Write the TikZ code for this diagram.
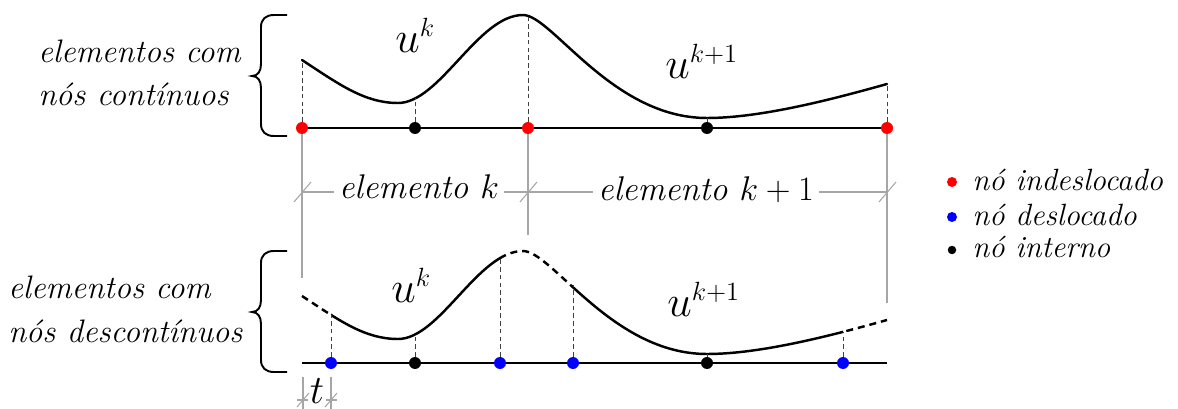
\RequirePackage{fix-cm}
\documentclass[tikz,border=0pt]{standalone}
\usepackage{fontspec}
\begin{document}
\def\ucurvepath{(302,60) .. controls (340,85) and (365,103) .. (398,103) .. controls (440,103) and (478,15) .. (523,15) .. controls (552,15) and (612,118) .. (707,118) .. controls (760,118) and (830,100) .. (887,84)}
\newcommand\supsz[1]{\mbox{\fontsize{15}{16}\selectfont$#1$}}
\begin{tikzpicture}[x=0.02cm,y=-0.02cm,
  curve/.style={line width=1.4pt, line cap=round},
  dcurve/.style={line width=1.4pt, dash pattern=on 4pt off 2.8pt},
  axisline/.style={line width=0.8pt},
  guide/.style={draw=black!75, line width=0.5pt, dash pattern=on 2.6pt off 1.8pt},
  dimline/.style={draw=black!35, line width=0.6pt},
  bracepath/.style={line width=1.1pt},
  dotbase/.style={circle, inner sep=0pt, minimum size=0.24cm},
  dotred/.style={dotbase, fill=red},
  dotblue/.style={dotbase, fill=blue},
  dotblack/.style={dotbase, fill=black},
  ldot/.style={circle, inner sep=0pt, minimum size=0.2cm},
  sidelbl/.style={font=\fontsize{18.5}{22}\selectfont\itshape, inner sep=0pt, anchor=base west},
  lbl/.style={font=\fontsize{17.5}{21}\selectfont\itshape, inner sep=0pt, anchor=base west},
  dimlbl/.style={font=\fontsize{19.5}{23}\selectfont\itshape, inner sep=0pt, inner xsep=3pt, anchor=base, fill=white},
  ulbl/.style={font=\fontsize{25}{30}\selectfont, inner sep=0pt, anchor=base west},
]
\useasboundingbox (0,0) rectangle (1178,409);

% ---------- TOP ----------
\draw[bracepath] (287,15) -- (274,15) .. controls (266,15) and (261,19) .. (261,27) -- (261,64) .. controls (261,71) and (258,76) .. (252,76) .. controls (258,76) and (261,81) .. (261,88) -- (261,124) .. controls (261,132) and (266,136) .. (274,136) -- (287,136);
\node[sidelbl] (tt1) at (38,62) {elementos com};
\node[sidelbl] (tt2) at (38,105) {nós contínuos};

\coordinate (tA) at (302,128);
\coordinate (tB) at (887,128);
\draw[axisline] (tA) -- (tB);

\coordinate (tc1) at (302,60);
\coordinate (tc2) at (415,98);
\coordinate (tc3) at (528,15);
\coordinate (tc4) at (707,118);
\coordinate (tc5) at (887,84);
\draw[curve] \ucurvepath;

\coordinate (g1) at (302,278);
\coordinate (g2) at (528,235);
\coordinate (g3) at (887,303);

\node[dotred] (t1) at (302,128) {};
\node[dotblack] (t2) at (415,128) {};
\node[dotred] (t3) at (528,128) {};
\node[dotblack] (t4) at (707,128) {};
\node[dotred] (t5) at (887,128) {};

\draw[guide] (t1) -- (tc1);
\draw[guide] (t2) -- (tc2);
\draw[guide] (t3) -- (tc3);
\draw[guide] (t4) -- (tc4);
\draw[guide] (t5) -- (tc5);

\draw[dimline] (t1) -- (g1);
\draw[dimline] (t3) -- (g2);
\draw[dimline] (t5) -- (g3);

\node[ulbl] (uk1) at (395,52) {$u^{\supsz{k}}$};
\node[ulbl] (uk2) at (665,78) {$u^{\supsz{k{+}1}}$};

% ---------- DIMENSION ----------
\coordinate (d1) at (302,192);
\coordinate (d2) at (528,192);
\coordinate (d3) at (887,192);
\draw[dimline] (d1) -- (d3);
\draw[dimline] (d1) +(-8,10) -- +(9,-10);
\draw[dimline] (d2) +(-8,10) -- +(9,-10);
\draw[dimline] (d3) +(-8,10) -- +(9,-10);
\node[dimlbl] (e1) at (419,198) {elemento $k$};
\node[dimlbl] (e2) at (706,200) {elemento $k+1$};

% ---------- LEGEND ----------
\node[ldot, fill=red] (l1) at (952,182) {};
\node[ldot, fill=blue] (l2) at (952,217) {};
\node[ldot, fill=black, minimum size=0.17cm] (l3) at (952,250) {};
\node[lbl] (l1t) at (972,190) {nó indeslocado};
\node[lbl] (l2t) at (972,225) {nó deslocado};
\node[lbl] (l3t) at (972,257) {nó interno};

% ---------- BOTTOM ----------
\begin{scope}[shift={(0,236)}]
\draw[bracepath] (287,15) -- (274,15) .. controls (266,15) and (261,19) .. (261,27) -- (261,64) .. controls (261,71) and (258,76) .. (252,76) .. controls (258,76) and (261,81) .. (261,88) -- (261,124) .. controls (261,132) and (266,136) .. (274,136) -- (287,136);
\begin{scope}\clip (331,-10) rectangle (500,140); \draw[curve] \ucurvepath; \end{scope}
\begin{scope}\clip (573,-10) rectangle (843,140); \draw[curve] \ucurvepath; \end{scope}
\begin{scope}\clip (290,-10) rectangle (331,140); \draw[dcurve] \ucurvepath; \end{scope}
\begin{scope}\clip (500,-10) rectangle (573,140); \draw[dcurve] \ucurvepath; \end{scope}
\begin{scope}\clip (843,-10) rectangle (900,140); \draw[dcurve] \ucurvepath; \end{scope}
\end{scope}

\node[sidelbl] (bt1) at (8,298) {elementos com};
\node[sidelbl] (bt2) at (8,342) {nós descontínuos};

\coordinate (bA) at (302,363);
\coordinate (bB) at (887,363);
\draw[axisline] (bA) -- (bB);

\coordinate (bc1) at (331,315);
\coordinate (bc2) at (415,334);
\coordinate (bc3) at (500,259);
\coordinate (bc4) at (573,285);
\coordinate (bc5) at (707,354);
\coordinate (bc6) at (843,332);

\node[dotblue] (b1) at (331,363) {};
\node[dotblack] (b2) at (415,363) {};
\node[dotblue] (b3) at (500,363) {};
\node[dotblue] (b4) at (573,363) {};
\node[dotblack] (b5) at (707,363) {};
\node[dotblue] (b6) at (843,363) {};

\draw[guide] (b1) -- (bc1);
\draw[guide] (b2) -- (bc2);
\draw[guide] (b3) -- (bc3);
\draw[guide] (b4) -- (bc4);
\draw[guide] (b5) -- (bc5);
\draw[guide] (b6) -- (bc6);

\node[ulbl] (uk3) at (391,302) {$u^{\supsz{k}}$};
\node[ulbl] (uk4) at (667,316) {$u^{\supsz{k{+}1}}$};

% ---------- t dimension ----------
\coordinate (s1) at (303,377);
\coordinate (s2) at (331,377);
\coordinate (s1b) at (303,409);
\coordinate (s2b) at (331,409);
\draw[dimline] (s1) -- (s1b);
\draw[dimline] (s2) -- (s2b);
\coordinate (r1) at (303,400);
\coordinate (r2) at (331,400);
\draw[dimline] (r1) +(-6,7) -- +(6,-7);
\draw[dimline] (r2) +(-6,7) -- +(6,-7);
\draw[dimline] (r1) +(-6,0) -- +(5,0);
\draw[dimline] (r2) +(-5,0) -- +(6,0);
\node[font=\fontsize{23}{28}\selectfont, inner sep=0pt, anchor=base] (tl) at (317,403) {$t$};
\end{tikzpicture}
\end{document}
